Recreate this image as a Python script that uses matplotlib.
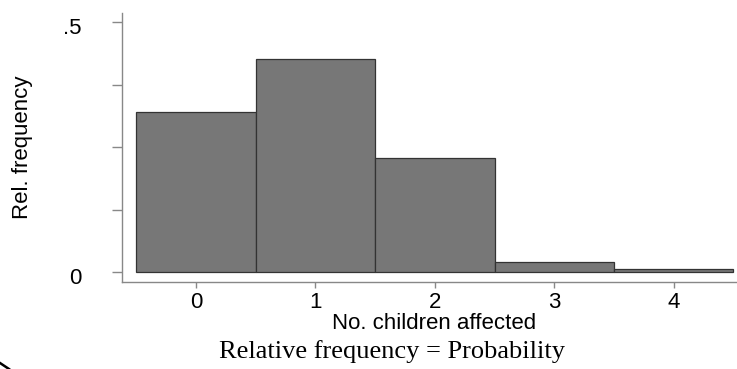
import matplotlib
matplotlib.use("Agg")
from matplotlib import pyplot as plt
from matplotlib.lines import Line2D
from matplotlib.transforms import ScaledTranslation

# number of affected children and their relative frequencies
children = [0, 1, 2, 3, 4]
rel_freq = [0.320, 0.427, 0.228, 0.021, 0.007]

y_ticks = [0, 0.125, 0.25, 0.375, 0.5]
y_tick_labels = ["0", "", "", "", ".5"]


def main():
    plt.rcParams["font.family"] = ["Liberation Sans", "DejaVu Sans"]
    fig = plt.figure(figsize=(7.37, 3.69), dpi=100)
    ax = fig.add_axes([122 / 737, 1 - 282 / 369, 615 / 737, 269 / 369])

    ax.bar(children, rel_freq, width=1.0, color="#777777",
           edgecolor="#333333", linewidth=0.9)

    ax.set_xlim(-0.62, 4.53)
    ax.set_ylim(-0.02, 0.518)

    for side in ("top", "right"):
        ax.spines[side].set_visible(False)
    for side in ("left", "bottom"):
        ax.spines[side].set_color("#888888")
        ax.spines[side].set_linewidth(1.0)

    ax.set_xticks(children)
    ax.set_yticks(y_ticks, y_tick_labels)
    ax.tick_params(axis="x", length=4, width=1, color="#888888",
                   pad=3.5, labelsize=16)
    ax.tick_params(axis="y", length=7.5, width=1, color="#888888",
                   pad=22, labelsize=16)
    shift = ScaledTranslation(0, -3 / 72, fig.dpi_scale_trans)
    for lbl in ax.get_yticklabels():
        lbl.set_transform(lbl.get_transform() + shift)

    ax.set_ylabel("Rel. frequency", fontsize=16, va="center")
    ax.yaxis.set_label_coords(-0.162, 0.5)
    ax.set_xlabel("No. children affected", fontsize=16, va="center")
    ax.xaxis.set_label_coords(0.507, -0.154)

    fig.text(392 / 737, 1 - 352 / 369, "Relative frequency = Probability",
             ha="center", va="center", fontsize=19,
             family=["Liberation Serif", "DejaVu Serif"])

    # small stroke at the lower-left corner
    fig.add_artist(Line2D([0, 9 / 737], [6 / 369, 0], color="black",
                          linewidth=1.8, transform=fig.transFigure))

    fig.savefig("out.png", dpi=100)


if __name__ == "__main__":
    main()
